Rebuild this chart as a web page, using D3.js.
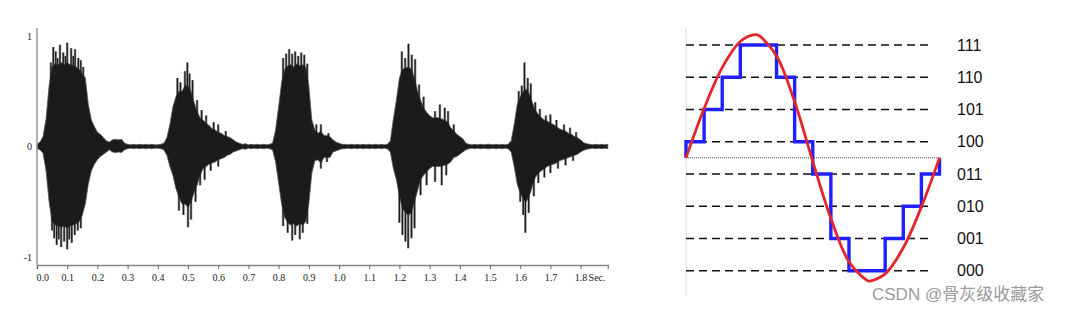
<!DOCTYPE html>
<html>
<head>
<meta charset="utf-8">
<script src="https://cdn.jsdelivr.net/npm/d3@7"></script>
<style>
  body { margin: 0; background: #fff; }
  svg { display: block; }
</style>
</head>
<body>
<svg id="chart" width="1078" height="313"></svg>
<script>
// ---- left: speech waveform, body envelope every 10 ms (0.00 .. 1.89 s)
const waveStep = 0.01;
const waveUpper = [
  0.02, 0.04, 0.09, 0.25, 0.55, 0.72, 0.75, 0.74, 0.76, 0.74,
  0.76, 0.74, 0.73, 0.72, 0.70, 0.66, 0.62, 0.38, 0.24, 0.18,
  0.13, 0.11, 0.08, 0.05, 0.04, 0.06, 0.065, 0.06, 0.065, 0.03,
  0.02, 0.015, 0.02, 0.015, 0.02, 0.015, 0.02, 0.015, 0.02, 0.015,
  0.015, 0.02, 0.03, 0.08, 0.20, 0.36, 0.45, 0.50, 0.50, 0.55,
  0.55, 0.50, 0.40, 0.32, 0.26, 0.24, 0.21, 0.19, 0.16, 0.15,
  0.13, 0.12, 0.10, 0.09, 0.08, 0.06, 0.04, 0.03, 0.02, 0.025,
  0.015, 0.02, 0.015, 0.02, 0.015, 0.02, 0.015, 0.02, 0.03, 0.15,
  0.36, 0.58, 0.70, 0.73, 0.74, 0.72, 0.75, 0.73, 0.74, 0.72,
  0.55, 0.24, 0.15, 0.12, 0.14, 0.10, 0.10, 0.09, 0.06, 0.04,
  0.03, 0.02, 0.02, 0.015, 0.02, 0.015, 0.02, 0.015, 0.02, 0.015,
  0.02, 0.015, 0.02, 0.015, 0.02, 0.015, 0.02, 0.05, 0.25, 0.42,
  0.62, 0.70, 0.71, 0.72, 0.70, 0.62, 0.50, 0.42, 0.35, 0.31,
  0.28, 0.26, 0.26, 0.26, 0.25, 0.24, 0.22, 0.17, 0.14, 0.11,
  0.09, 0.07, 0.03, 0.02, 0.015, 0.02, 0.015, 0.02, 0.015, 0.02,
  0.02, 0.015, 0.02, 0.015, 0.02, 0.015, 0.02, 0.05, 0.20, 0.38,
  0.45, 0.50, 0.52, 0.48, 0.40, 0.33, 0.29, 0.26, 0.24, 0.23,
  0.21, 0.20, 0.18, 0.16, 0.15, 0.14, 0.12, 0.11, 0.09, 0.08,
  0.06, 0.035, 0.025, 0.02, 0.015, 0.02, 0.015, 0.02, 0.015, 0.02
];
const waveLower = [
  -0.02, -0.03, -0.06, -0.22, -0.50, -0.68, -0.71, -0.72, -0.73, -0.72,
  -0.74, -0.72, -0.71, -0.70, -0.68, -0.62, -0.52, -0.34, -0.22, -0.16,
  -0.12, -0.09, -0.07, -0.05, -0.03, -0.05, -0.055, -0.05, -0.055, -0.03,
  -0.02, -0.015, -0.02, -0.015, -0.02, -0.015, -0.02, -0.015, -0.02, -0.015,
  -0.015, -0.02, -0.03, -0.08, -0.18, -0.26, -0.38, -0.46, -0.52, -0.52,
  -0.55, -0.50, -0.42, -0.35, -0.26, -0.20, -0.18, -0.16, -0.15, -0.14,
  -0.12, -0.11, -0.10, -0.08, -0.07, -0.05, -0.04, -0.03, -0.02, -0.025,
  -0.015, -0.02, -0.015, -0.02, -0.015, -0.02, -0.015, -0.02, -0.03, -0.14,
  -0.33, -0.52, -0.64, -0.69, -0.71, -0.70, -0.72, -0.70, -0.71, -0.68,
  -0.52, -0.24, -0.13, -0.12, -0.15, -0.10, -0.10, -0.10, -0.05, -0.04,
  -0.03, -0.02, -0.02, -0.015, -0.02, -0.015, -0.02, -0.015, -0.02, -0.015,
  -0.02, -0.015, -0.02, -0.015, -0.02, -0.015, -0.02, -0.05, -0.20, -0.30,
  -0.45, -0.56, -0.60, -0.62, -0.60, -0.50, -0.40, -0.30, -0.26, -0.23,
  -0.20, -0.18, -0.18, -0.18, -0.18, -0.17, -0.16, -0.14, -0.10, -0.09,
  -0.07, -0.05, -0.03, -0.02, -0.015, -0.02, -0.015, -0.02, -0.015, -0.02,
  -0.02, -0.015, -0.02, -0.015, -0.02, -0.015, -0.02, -0.05, -0.18, -0.34,
  -0.42, -0.48, -0.50, -0.45, -0.36, -0.28, -0.24, -0.22, -0.20, -0.18,
  -0.17, -0.16, -0.15, -0.13, -0.12, -0.11, -0.10, -0.09, -0.08, -0.07,
  -0.05, -0.035, -0.025, -0.02, -0.015, -0.02, -0.015, -0.02, -0.015, -0.02
];
// single peaks sticking out of the envelope [time, amplitude]
const spikesUp = [
  [0.046, 0.76], [0.054, 0.90], [0.062, 0.86], [0.068, 0.80], [0.076, 0.92], [0.087, 0.85],
  [0.094, 0.82], [0.100, 0.94], [0.113, 0.89], [0.120, 0.82], [0.126, 0.88], [0.137, 0.80],
  [0.145, 0.78], [0.153, 0.72],
  [0.465, 0.62], [0.475, 0.58], [0.490, 0.68], [0.498, 0.76], [0.505, 0.66], [0.515, 0.60],
  [0.530, 0.42], [0.545, 0.33], [0.560, 0.28], [0.585, 0.22], [0.600, 0.20], [0.625, 0.14],
  [0.815, 0.80], [0.825, 0.84], [0.835, 0.88], [0.845, 0.84], [0.855, 0.86], [0.865, 0.82],
  [0.875, 0.85], [0.885, 0.83], [0.895, 0.75], [0.925, 0.20], [0.940, 0.20], [0.965, 0.12],
  [1.208, 0.86], [1.219, 0.80], [1.230, 0.93], [1.241, 0.83], [1.252, 0.79], [1.265, 0.56],
  [1.280, 0.45], [1.318, 0.32], [1.334, 0.38], [1.350, 0.35], [1.361, 0.32], [1.380, 0.20],
  [1.595, 0.50], [1.605, 0.55], [1.614, 0.76], [1.625, 0.62], [1.635, 0.57], [1.650, 0.40],
  [1.665, 0.34], [1.685, 0.28], [1.700, 0.29], [1.720, 0.24], [1.745, 0.20], [1.765, 0.17],
  [1.785, 0.13]
];
const spikesDown = [
  [0.050, -0.76], [0.057, -0.83], [0.065, -0.89], [0.072, -0.84], [0.080, -0.91], [0.090, -0.86],
  [0.100, -0.93], [0.107, -0.84], [0.115, -0.87], [0.125, -0.80], [0.135, -0.76], [0.145, -0.74],
  [0.470, -0.58], [0.485, -0.62], [0.500, -0.73], [0.510, -0.66], [0.525, -0.50], [0.540, -0.35],
  [0.555, -0.30], [0.575, -0.22], [0.600, -0.18],
  [0.815, -0.72], [0.830, -0.78], [0.845, -0.85], [0.855, -0.80], [0.870, -0.84], [0.880, -0.78],
  [0.895, -0.70], [0.940, -0.20], [0.960, -0.14],
  [1.200, -0.69], [1.210, -0.80], [1.220, -0.86], [1.229, -0.92], [1.240, -0.83], [1.250, -0.74],
  [1.270, -0.44], [1.290, -0.35], [1.318, -0.32], [1.340, -0.35], [1.355, -0.26],
  [1.600, -0.50], [1.610, -0.62], [1.617, -0.78], [1.628, -0.60], [1.645, -0.45], [1.660, -0.33],
  [1.680, -0.28], [1.700, -0.24], [1.725, -0.20], [1.750, -0.17], [1.775, -0.13]
];
const timeTicks = [0.0, 0.1, 0.2, 0.3, 0.4, 0.5, 0.6, 0.7, 0.8, 0.9,
                   1.0, 1.1, 1.2, 1.3, 1.4, 1.5, 1.6, 1.7, 1.8];
const ampTicks = [1, 0, -1];

// ---- right: 3-bit quantisation of one sine period
const levelCodes = ["000", "001", "010", "011", "100", "101", "110", "111"];
const sampleLevels = [4, 5, 6, 7, 7, 6, 4, 3, 1, 0, 0, 1, 2, 3];  // one per sample interval
const sineX = [0, 1, 2, 3, 3.81, 4, 5, 6, 7, 8, 9, 10, 10.17, 11, 12, 13, 14];
const sineY = [3.5, 5.03, 6.3, 7.11, 7.32, 7.3, 6.66, 5.24, 3.39, 1.62, 0.28, -0.3, -0.32, -0.1, 0.71, 1.98, 3.5];
const zeroLevel = 3.5;

const svg = d3.select("#chart");
const waveFill = "#1b1b1b";

// ================= waveform =================
const x = d3.scaleLinear().domain([0, 1.89]).range([37, 607.8]);
const y = d3.scaleLinear().domain([-1, 1]).range([257, 36]);

const wave = waveUpper.map((u, i) => ({ t: i * waveStep, hi: u, lo: waveLower[i] }));

const area = d3.area()
    .x(d => x(d.t))
    .y0(d => y(d.lo))
    .y1(d => y(d.hi));

const spikes = spikesUp.concat(spikesDown);

// grey halo under the body, dark core on top in the fill colour
svg.selectAll(".spikeHalo")
    .data(spikes)
    .enter().append("line")
    .attr("class", "spikeHalo")
    .attr("x1", d => x(d[0])).attr("x2", d => x(d[0]))
    .attr("y1", y(0)).attr("y2", d => y(d[1]))
    .attr("stroke", "#9a9a9a")
    .attr("stroke-width", 2.6);

svg.append("path")
    .datum(wave)
    .attr("d", area)
    .attr("fill", waveFill)
    .attr("stroke", "#555")
    .attr("stroke-width", 0.8);

svg.selectAll(".spike")
    .data(spikes)
    .enter().append("line")
    .attr("class", "spike")
    .attr("x1", d => x(d[0])).attr("x2", d => x(d[0]))
    .attr("y1", y(0)).attr("y2", d => y(d[1]))
    .attr("stroke", waveFill)
    .attr("stroke-width", 1.3);

const xAxis = svg.append("g")
    .attr("transform", "translate(0,265)")
    .call(d3.axisBottom(x).tickValues(timeTicks).tickSize(4).tickFormat(d3.format(".1f")));
xAxis.select(".domain").attr("stroke", "#888").attr("stroke-width", 1.5);
xAxis.selectAll(".tick line").attr("stroke", "#666");
xAxis.selectAll("text")
    .attr("dy", "0.9em")
    .style("font-family", "'Liberation Serif', 'DejaVu Serif', serif")
    .style("font-size", "10px")
    .attr("fill", "#222");
xAxis.selectAll(".tick").filter(d => d === 0).select("text").attr("text-anchor", "start").attr("dx", -1);

svg.append("text")
    .attr("x", x(1.8) + 8)
    .attr("y", 281)
    .style("font-family", "'Liberation Serif', 'DejaVu Serif', serif")
    .style("font-size", "10px")
    .attr("fill", "#222")
    .text("Sec.");

svg.append("line")
    .attr("x1", 37).attr("x2", 37)
    .attr("y1", 28).attr("y2", 265)
    .attr("stroke", "#999").attr("stroke-width", 1.5);

svg.selectAll(".ampLabel")
    .data(ampTicks)
    .enter().append("text")
    .attr("class", "ampLabel")
    .attr("x", 32)
    .attr("y", d => y(d))
    .attr("dy", "0.35em")
    .attr("text-anchor", "end")
    .style("font-family", "'Liberation Serif', 'DejaVu Serif', serif")
    .style("font-size", "10px")
    .attr("fill", "#222")
    .text(d => d);

// ================= quantisation =================
const qx = d3.scaleLinear().domain([0, 14]).range([686, 939.5]);
const qy = d3.scaleLinear().domain([0, 7]).range([270.7, 45]);

svg.append("line")
    .attr("x1", 686).attr("x2", 686)
    .attr("y1", 28).attr("y2", 296)
    .attr("stroke", "#dcdcdc").attr("stroke-width", 1);

svg.selectAll(".levelLine")
    .data(levelCodes)
    .enter().append("line")
    .attr("class", "levelLine")
    .attr("x1", qx(0)).attr("x2", 932)
    .attr("y1", (d, i) => qy(i)).attr("y2", (d, i) => qy(i))
    .attr("stroke", "#111")
    .attr("stroke-width", 1.6)
    .attr("stroke-dasharray", "8,5");

svg.selectAll(".levelLabel")
    .data(levelCodes)
    .enter().append("text")
    .attr("class", "levelLabel")
    .attr("x", 957)
    .attr("y", (d, i) => qy(i))
    .attr("dy", "0.36em")
    .style("font-family", "Arial, 'Liberation Sans', sans-serif")
    .style("font-size", "16px")
    .attr("fill", "#111")
    .text(d => d);

// zero line, dotted
svg.append("line")
    .attr("x1", qx(0)).attr("x2", qx(14))
    .attr("y1", qy(zeroLevel)).attr("y2", qy(zeroLevel))
    .attr("stroke", "#444")
    .attr("stroke-width", 1)
    .attr("stroke-dasharray", "1,1");

// staircase: leaves the zero line, holds each sample, comes back at the end
const stairs = [[0, zeroLevel]]
    .concat(sampleLevels.map((v, i) => [i, v]))
    .concat([[14, sampleLevels[sampleLevels.length - 1]], [14, zeroLevel]]);

svg.append("path")
    .datum(stairs)
    .attr("d", d3.line().x(d => qx(d[0])).y(d => qy(d[1])).curve(d3.curveStepAfter))
    .attr("fill", "none")
    .attr("stroke", "#1f1fff")
    .attr("stroke-width", 3.4);

svg.append("path")
    .datum(sineX.map((v, i) => [v, sineY[i]]))
    .attr("d", d3.line().x(d => qx(d[0])).y(d => qy(d[1])).curve(d3.curveCatmullRom))
    .attr("fill", "none")
    .attr("stroke", "#e3262a")
    .attr("stroke-width", 2.8);

// watermark
svg.append("text")
    .attr("x", 872)
    .attr("y", 300)
    .style("font-family", "Arial, 'Liberation Sans', 'Noto Sans CJK SC', sans-serif")
    .style("font-size", "17px")
    .attr("fill", "#9b9b9b")
    .text("CSDN @骨灰级收藏家");
</script>
</body>
</html>
